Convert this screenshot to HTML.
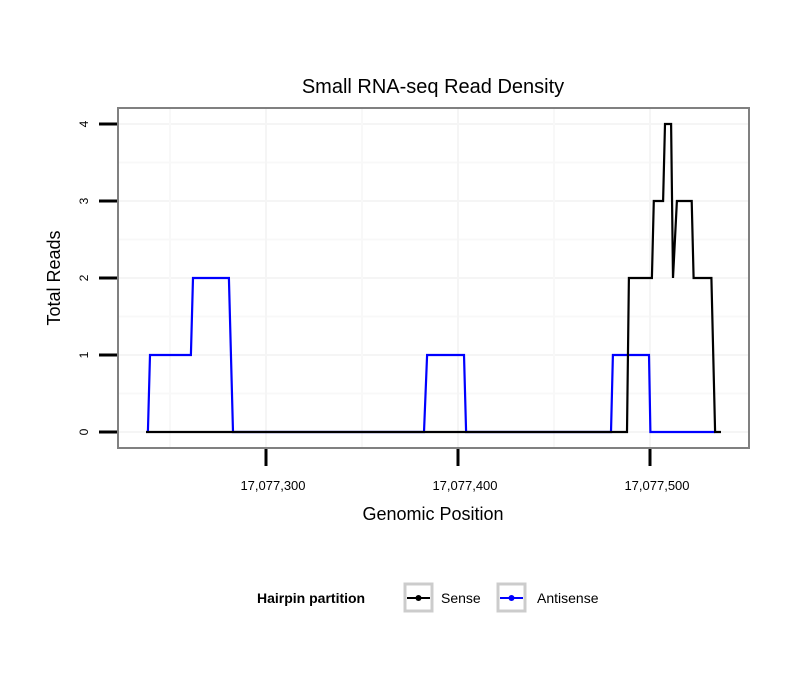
<!DOCTYPE html>
<html><head><meta charset="utf-8"><style>
body{margin:0;background:#fff}
svg text{font-family:"Liberation Sans",sans-serif}
</style></head><body>
<svg id="chart" width="810" height="690" xmlns="http://www.w3.org/2000/svg">
<rect width="810" height="690" fill="#fff"/>
<text x="433" y="93" font-size="20" text-anchor="middle">Small RNA-seq Read Density</text>
<g id="grid"></g>
<g id="series"></g>
<rect x="118" y="108" width="631" height="340" fill="none" stroke="#808080" stroke-width="2"/>
<g id="axes"></g>
<text x="433" y="520" font-size="18" text-anchor="middle">Genomic Position</text>
<text transform="translate(60,278) rotate(-90)" font-size="18" text-anchor="middle">Total Reads</text>
<g>
<text x="257" y="603" font-size="14" font-weight="bold">Hairpin partition</text>
<g>
<rect x="405" y="584" width="27" height="27" fill="#fff" stroke="#ccc" stroke-width="3"/>
<line x1="407" y1="598" x2="430" y2="598" stroke="#000" stroke-width="2"/>
<circle cx="418.5" cy="598" r="3" fill="#000"/>
<text x="441" y="603" font-size="14">Sense</text>
</g>
<g>
<rect x="498" y="584" width="27" height="27" fill="#fff" stroke="#ccc" stroke-width="3"/>
<line x1="500" y1="598" x2="523" y2="598" stroke="#00f" stroke-width="2"/>
<circle cx="511.5" cy="598" r="3" fill="#00f"/>
<text x="537" y="603" font-size="14">Antisense</text>
</g>
</g>
</svg>
<script>
const xTicks=[17077300,17077400,17077500];
const xTickLabels=["17,077,300","17,077,400","17,077,500"];
const yTicks=[0,1,2,3,4];
const antisenseX=[17077238.5,17077239.6,17077260.9,17077262,17077280.7,17077282.8,17077382.3,17077383.9,17077403.1,17077404.2,17077479.7,17077480.7,17077499.5,17077500.2,17077533.9];
const antisenseY=[0,1,1,2,2,0,0,1,1,0,0,1,1,0,0];
const senseX=[17077237.5,17077488,17077489,17077501,17077502,17077506.8,17077507.8,17077511,17077512,17077514,17077521.7,17077522.7,17077532,17077533.9,17077537];
const senseY=[0,0,2,2,3,3,4,4,2,3,3,2,2,0,0];
const NS="http://www.w3.org/2000/svg";
function sx(v){return 266+(v-17077300)*1.92;}
function sy(v){return 432-v*77;}
function mk(tag,attrs,parent){const e=document.createElementNS(NS,tag);for(const k in attrs)e.setAttribute(k,attrs[k]);parent.appendChild(e);return e;}
const grid=document.getElementById('grid'),axes=document.getElementById('axes'),series=document.getElementById('series');
for(let i=0;i<yTicks.length;i++){
 const y=sy(yTicks[i]);
 const g=mk('line',{x1:118,x2:749,y1:y,y2:y,stroke:'#f5f5f5','stroke-width':2},grid);
 
 
 if(i<yTicks.length-1){const m=mk('line',{x1:118,x2:749,y1:sy(yTicks[i]+0.5),y2:sy(yTicks[i]+0.5),stroke:'#f8f8f8','stroke-width':2},grid);
 
 }
 const t=mk('line',{x1:99,x2:117,y1:y,y2:y,stroke:'#000','stroke-width':3},axes);
 
 
 const l=mk('text',{transform:`translate(88,${y}) rotate(-90)`,'font-size':12,'text-anchor':'middle'},axes);
 l.textContent=String(yTicks[i]);
 
 
}
for(let i=0;i<xTicks.length;i++){
 const x=sx(xTicks[i]);
 const g=mk('line',{x1:x,x2:x,y1:108,y2:448,stroke:'#f5f5f5','stroke-width':2},grid);
 
 
 const m=mk('line',{x1:sx(xTicks[i]-50),x2:sx(xTicks[i]-50),y1:108,y2:448,stroke:'#f8f8f8','stroke-width':2},grid);
 
 
 const t=mk('line',{x1:x,x2:x,y1:449,y2:466,stroke:'#000','stroke-width':3},axes);
 
 
 const l=mk('text',{x:x+7,y:490,'font-size':13,'text-anchor':'middle'},axes);
 l.textContent=xTickLabels[i];
 
 
}
function pts(X,Y){return X.map((v,i)=>sx(v).toFixed(1)+','+sy(Y[i]).toFixed(1)).join(' ');}
const a=mk('polyline',{points:pts(antisenseX,antisenseY),fill:'none',stroke:'#00f','stroke-width':2.2},series);


const s=mk('polyline',{points:pts(senseX,senseY),fill:'none',stroke:'#000','stroke-width':2.2,'stroke-linejoin':'miter'},series);


</script>
</body></html>
